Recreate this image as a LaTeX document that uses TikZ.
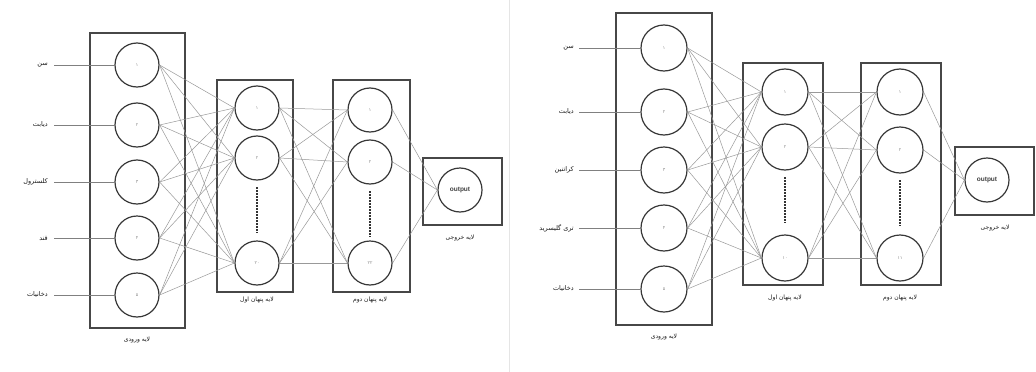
\documentclass[tikz,border=0pt]{standalone}
\usepackage{fontspec}
\setmainfont{Liberation Sans}
\newfontfamily\fa[Script=Arabic]{DejaVu Sans}
\TeXXeTstate=1
\begin{document}
\begin{tikzpicture}[x=1pt,y=-1pt,
  neuron/.style={circle,draw=black!78,line width=1.2pt,minimum size=#1,inner sep=0pt,
    font=\fa\fontsize{4.5}{4.5}\selectfont,text=black!45},
  neuron/.default=44pt,
  outneuron/.style={neuron,font=\bfseries\fontsize{6.5}{6.5}\selectfont,text=black!75},
  layerbox/.style={draw=black!72,line width=1.5pt,inner sep=0pt},
  conn/.style={draw=black!40,line width=0.5pt},
  inconn/.style={draw=black!50,line width=0.5pt},
  inlabel/.style={anchor=east,font=\fa\fontsize{6.5}{7}\selectfont,inner sep=0pt,text=black!90},
  laylabel/.style={font=\fa\fontsize{6}{7}\selectfont,inner sep=0pt,text=black!90},
  dotsline/.style={draw=black!80,line width=2.2pt,dash pattern=on 1.6pt off 1.4pt}]
\useasboundingbox (0,0) rectangle (1036,372);
\fill[white] (0,0) rectangle (1036,372);
% faint separator
\draw[black!10,line width=0.8pt] (509,0) -- (509,372);

% ================= LEFT PANEL =================
\node[layerbox,minimum width=95pt,minimum height=295pt] (LinBox) at (137.5,180.5) {};
\node[layerbox,minimum width=76pt,minimum height=212pt] (Lh1Box) at (255,186) {};
\node[layerbox,minimum width=77pt,minimum height=212pt] (Lh2Box) at (371.5,186) {};
\node[layerbox,minimum width=79pt,minimum height=67pt] (LoBox) at (462.5,191.5) {};

\node[neuron] (Li1) at (137,65) {\beginR ۱\endR};
\node[neuron] (Li2) at (137,125) {\beginR ۲\endR};
\node[neuron] (Li3) at (137,182) {\beginR ۳\endR};
\node[neuron] (Li4) at (137,238) {\beginR ۴\endR};
\node[neuron] (Li5) at (137,295) {\beginR ۵\endR};

\node[neuron] (La1) at (257,108) {\beginR ۱\endR};
\node[neuron] (La2) at (257,158) {\beginR ۲\endR};
\node[neuron] (La3) at (257,263) {\beginR ۲۰\endR};

\node[neuron] (Lb1) at (370,110) {\beginR ۱\endR};
\node[neuron] (Lb2) at (370,162) {\beginR ۲\endR};
\node[neuron] (Lb3) at (370,263) {\beginR ۲۲\endR};

\node[outneuron] (Lout) at (460,190) {output};

\coordinate (LaD1) at (257,187);
\coordinate (LaD2) at (257,233);
\draw[dotsline] (LaD1) -- (LaD2);
\coordinate (LbD1) at (370,191);
\coordinate (LbD2) at (370,237);
\draw[dotsline] (LbD1) -- (LbD2);

\node[inlabel] (Ll1) at (48,65) {\beginR سن\endR};
\node[inlabel] (Ll2) at (48,125) {\beginR دیابت\endR};
\node[inlabel] (Ll3) at (48,182) {\beginR کلسترول\endR};
\node[inlabel] (Ll4) at (48,238) {\beginR قند\endR};
\node[inlabel] (Ll5) at (48,295) {\beginR دخانیات\endR};
\foreach \i in {1,...,5}{
  \draw[inconn] ([xshift=6pt]Ll\i.east) -- (Li\i.west);
}

\node[laylabel] (LinLab) at (137,340) {\beginR لایه ورودی\endR};
\node[laylabel] (Lh1Lab) at (257,300) {\beginR لایه پنهان اول\endR};
\node[laylabel] (Lh2Lab) at (370,300) {\beginR لایه پنهان دوم\endR};
\node[laylabel] (LoLab) at (460,238) {\beginR لایه خروجی\endR};

\foreach \i in {1,...,5}{
  \foreach \j in {1,2,3}{
    \draw[conn] (Li\i.east) -- (La\j.west);
  }
}
\foreach \i in {1,2,3}{
  \foreach \j in {1,2,3}{
    \draw[conn] (La\i.east) -- (Lb\j.west);
  }
  \draw[conn] (Lb\i.east) -- (Lout.west);
}

% ================= RIGHT PANEL =================
\node[layerbox,minimum width=96pt,minimum height=312pt] (RinBox) at (664,169) {};
\node[layerbox,minimum width=80pt,minimum height=222pt] (Rh1Box) at (783,174) {};
\node[layerbox,minimum width=80pt,minimum height=222pt] (Rh2Box) at (901,174) {};
\node[layerbox,minimum width=79pt,minimum height=68pt] (RoBox) at (994.5,181) {};

\node[neuron=46pt] (Ri1) at (664,48) {\beginR ۱\endR};
\node[neuron=46pt] (Ri2) at (664,112) {\beginR ۲\endR};
\node[neuron=46pt] (Ri3) at (664,170) {\beginR ۳\endR};
\node[neuron=46pt] (Ri4) at (664,228) {\beginR ۴\endR};
\node[neuron=46pt] (Ri5) at (664,289) {\beginR ۵\endR};

\node[neuron=46pt] (Ra1) at (785,92) {\beginR ۱\endR};
\node[neuron=46pt] (Ra2) at (785,147) {\beginR ۲\endR};
\node[neuron=46pt] (Ra3) at (785,258) {\beginR ۱۰\endR};

\node[neuron=46pt] (Rb1) at (900,92) {\beginR ۱\endR};
\node[neuron=46pt] (Rb2) at (900,150) {\beginR ۲\endR};
\node[neuron=46pt] (Rb3) at (900,258) {\beginR ۱۱\endR};

\node[outneuron=44pt] (Rout) at (987,180) {output};

\coordinate (RaD1) at (785,177);
\coordinate (RaD2) at (785,223);
\draw[dotsline] (RaD1) -- (RaD2);
\coordinate (RbD1) at (900,180);
\coordinate (RbD2) at (900,226);
\draw[dotsline] (RbD1) -- (RbD2);

\node[inlabel] (Rl1) at (574,48) {\beginR سن\endR};
\node[inlabel] (Rl2) at (574,112) {\beginR دیابت\endR};
\node[inlabel] (Rl3) at (574,170) {\beginR کراتنین\endR};
\node[inlabel] (Rl4) at (574,228) {\beginR تری گلیسرید\endR};
\node[inlabel] (Rl5) at (574,289) {\beginR دخانیات\endR};
\foreach \i in {1,...,5}{
  \draw[inconn] ([xshift=5pt]Rl\i.east) -- (Ri\i.west);
}

\node[laylabel] (RinLab) at (664,337) {\beginR لایه ورودی\endR};
\node[laylabel] (Rh1Lab) at (785,298) {\beginR لایه پنهان اول\endR};
\node[laylabel] (Rh2Lab) at (900,298) {\beginR لایه پنهان دوم\endR};
\node[laylabel] (RoLab) at (995,228) {\beginR لایه خروجی\endR};

\foreach \i in {1,...,5}{
  \foreach \j in {1,2,3}{
    \draw[conn] (Ri\i.east) -- (Ra\j.west);
  }
}
\foreach \i in {1,2,3}{
  \foreach \j in {1,2,3}{
    \draw[conn] (Ra\i.east) -- (Rb\j.west);
  }
  \draw[conn] (Rb\i.east) -- (Rout.west);
}
\end{tikzpicture}
\end{document}
